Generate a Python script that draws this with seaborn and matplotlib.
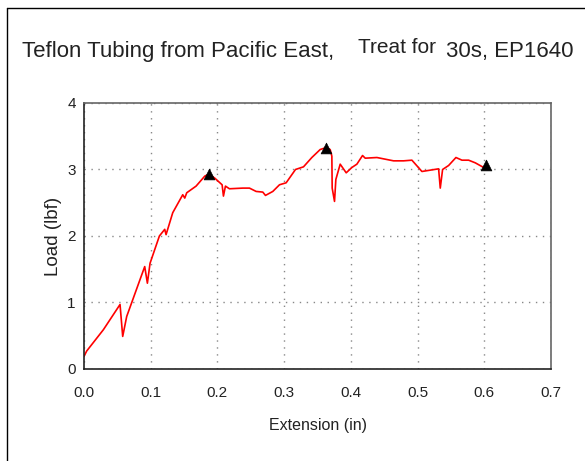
import matplotlib
matplotlib.use("Agg")
import matplotlib.pyplot as plt
import seaborn as sns
import pandas as pd
from matplotlib.ticker import MultipleLocator
from matplotlib.lines import Line2D

# ---- data ----
extension = [0.000, 0.004, 0.029, 0.054, 0.058, 0.064, 0.091, 0.095, 0.099, 0.113,
             0.121, 0.123, 0.133, 0.148, 0.151, 0.154, 0.168, 0.181, 0.187, 0.196,
             0.207, 0.209, 0.212, 0.218, 0.238, 0.248, 0.258, 0.268, 0.272, 0.283,
             0.293, 0.303, 0.317, 0.329, 0.3415, 0.354, 0.363, 0.369, 0.3715, 0.372,
             0.3755, 0.3775, 0.384, 0.393, 0.4015, 0.409, 0.4175, 0.4215, 0.439, 0.454,
             0.464, 0.479, 0.4915, 0.5065, 0.519, 0.5315, 0.534, 0.5375, 0.5465, 0.5575,
             0.5665, 0.5765, 0.5865, 0.599, 0.603]
load = [0.19, 0.27, 0.59, 0.97, 0.49, 0.79, 1.54, 1.29, 1.59, 2.00,
        2.10, 2.02, 2.35, 2.62, 2.57, 2.65, 2.75, 2.90, 2.93, 2.87,
        2.77, 2.60, 2.75, 2.71, 2.72, 2.72, 2.67, 2.66, 2.61, 2.67,
        2.77, 2.80, 3.00, 3.04, 3.18, 3.30, 3.33, 3.30, 3.20, 2.72,
        2.52, 2.85, 3.08, 2.95, 3.03, 3.08, 3.21, 3.17, 3.18, 3.15,
        3.13, 3.13, 3.14, 2.97, 2.99, 3.01, 2.72, 3.00, 3.06, 3.18,
        3.14, 3.14, 3.10, 3.03, 3.07]
marker_ext = [0.187, 0.363, 0.603]
marker_load = [2.93, 3.33, 3.07]
x_ticks = [0.0, 0.1, 0.2, 0.3, 0.4, 0.5, 0.6, 0.7]
x_ticklabels = ["0.0", "0.1", "0.2", "0.3", "0.4", "0.5", "0.6", "0.7"]
y_ticks = [0, 1, 2, 3, 4]
y_ticklabels = ["0", "1", "2", "3", "4"]

sns.set_style("white")
plt.rcParams['font.family'] = ['Liberation Sans', 'DejaVu Sans']

df = pd.DataFrame({"ext": extension, "load": load})
mk = pd.DataFrame({"ext": marker_ext, "load": marker_load})

fig = plt.figure(figsize=(5.85, 4.61), dpi=100)
ax = fig.add_axes([0.1436, 0.1996, 0.7983, 0.577])

sns.lineplot(data=df, x="ext", y="load", sort=False, estimator=None,
             color="#ff0000", linewidth=1.2, ax=ax)
sns.scatterplot(data=mk, x="ext", y="load", marker="^", color="black",
                s=60, edgecolor="black", linewidth=0.5, zorder=5, ax=ax)

ax.set_xlim(0, 0.7)
ax.set_ylim(0, 4)
ax.set_xticks(x_ticks)
ax.set_xticklabels(x_ticklabels)
ax.set_yticks(y_ticks)
ax.set_yticklabels(y_ticklabels)
ax.xaxis.set_minor_locator(MultipleLocator(0.05))
ax.yaxis.set_minor_locator(MultipleLocator(0.5))
ax.tick_params(axis="both", which="both", direction="inout", length=6,
               width=1, color="#222222", labelsize=11, labelcolor="#222222")
ax.tick_params(axis="x", pad=9)
ax.tick_params(axis="y", pad=3)
ax.tick_params(top=False, right=False, which="both")

ax.grid(True, which="major", color="#888888", linestyle=(0, (1, 4)), linewidth=1)
for s in ["left", "bottom"]:
    ax.spines[s].set_color("#222222")
    ax.spines[s].set_linewidth(1.2)
for s in ["top", "right"]:
    ax.spines[s].set_color("#666666")
    ax.spines[s].set_linewidth(1.2)

ax.set_xlabel("Extension (in)", fontsize=11.5, color="#222222", labelpad=13)
ax.set_ylabel("Load (lbf)", fontsize=13.5, color="#222222", labelpad=4)

fig.text(22 / 585, 1 - 57 / 461, "Teflon Tubing from Pacific East,", fontsize=16,
         ha="left", va="baseline", color="#222222")
fig.text(358 / 585, 1 - 53 / 461, "Treat for", fontsize=15,
         ha="left", va="baseline", color="#222222")
fig.text(446 / 585, 1 - 57 / 461, "30s, EP1640", fontsize=16,
         ha="left", va="baseline", color="#222222")

# figure border (left and top)
fig.add_artist(Line2D([7 / 585, 7 / 585], [0, 1 - 8 / 461], transform=fig.transFigure,
                      color="black", linewidth=1))
fig.add_artist(Line2D([7 / 585, 1], [1 - 8 / 461, 1 - 8 / 461], transform=fig.transFigure,
                      color="black", linewidth=1))

fig.savefig("out.png", dpi=100)
